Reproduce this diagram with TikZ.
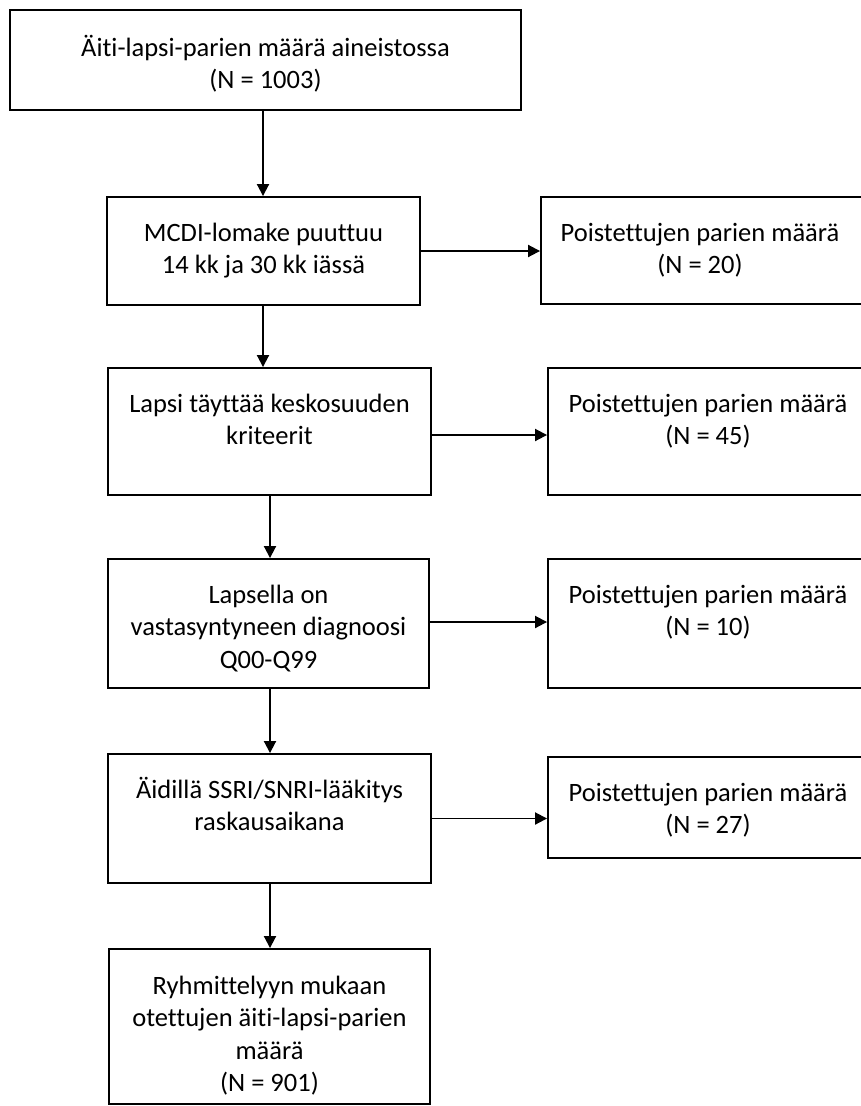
\documentclass[tikz,border=0pt]{standalone}
\usepackage{fontspec}
\setmainfont{Carlito}[Ligatures=NoCommon]
\usetikzlibrary{arrows.meta,calc}
\begin{document}
\begin{tikzpicture}[x=1pt,y=-1pt,
  box/.style={draw=black, line width=1.9pt, inner sep=0pt, rectangle},
  txt/.style={anchor=north, inner sep=0pt, align=center, font=\fontsize{26.5}{32.5}\selectfont},
  arr/.style={line width=1.9pt, -{Triangle[length=12pt,width=12pt]}}]
\path[use as bounding box] (0,0) rectangle (861,1106);
\clip (0,0) rectangle (861,1106);
% boxes
\node[box, minimum width=511pt, minimum height=100pt] (b1) at (265.5,60) {};
\node[box, minimum width=313pt, minimum height=108pt] (b2) at (263.5,251) {};
\node[box, minimum width=325pt, minimum height=107pt] (r1) at (703.5,250.5) {};
\node[box, minimum width=323pt, minimum height=127pt] (b3) at (269.5,431.5) {};
\node[box, minimum width=320pt, minimum height=127pt] (r2) at (708,431.5) {};
\node[box, minimum width=321pt, minimum height=129pt] (b4) at (268.5,623.5) {};
\node[box, minimum width=320pt, minimum height=129pt] (r3) at (708,623.5) {};
\node[box, minimum width=323pt, minimum height=129pt] (b5) at (269.5,818.5) {};
\node[box, minimum width=320pt, minimum height=101pt] (r4) at (708,807.5) {};
\node[box, minimum width=321pt, minimum height=155pt] (b6) at (269.5,1026.5) {};
% texts
\node[txt] (t1) at ([yshift=-24pt]b1.north) {\strut Äiti-lapsi-parien määrä aineistossa\\(N = 1003)};
\node[txt] (t2) at ([yshift=-22.3pt]b2.north) {\strut MCDI-lomake puuttuu\\14 kk ja 30 kk iässä};
\node[txt] (tr1) at ([xshift=-3.5pt,yshift=-22.3pt]r1.north) {\strut Poistettujen parien määrä\\(N = 20)};
\node[txt] (t3) at ([yshift=-22.3pt]b3.north) {\strut Lapsi täyttää keskosuuden\\kriteerit};
\node[txt] (tr2) at ([yshift=-22.3pt]r2.north) {\strut Poistettujen parien määrä\\(N = 45)};
\node[txt] (t4) at ([yshift=-22.3pt]b4.north) {\strut Lapsella on\\vastasyntyneen diagnoosi\\Q00-Q99};
\node[txt] (tr3) at ([yshift=-22.3pt]r3.north) {\strut Poistettujen parien määrä\\(N = 10)};
\node[txt] (t5) at ([yshift=-22.3pt]b5.north) {\strut Äidillä SSRI/SNRI-lääkitys\\raskausaikana};
\node[txt] (tr4) at ([yshift=-22.3pt]r4.north) {\strut Poistettujen parien määrä\\(N = 27)};
\node[txt] (t6) at ([yshift=-23pt]b6.north) {\strut Ryhmittelyyn mukaan\\otettujen äiti-lapsi-parien\\määrä\\(N = 901)};
% arrow x positions
\coordinate (xa) at (263,0);
\coordinate (xb) at (270,0);
% vertical arrows
\draw[arr] (b1.south -| xa) -- (b2.north -| xa);
\draw[arr] (b2.south -| xa) -- (b3.north -| xa);
\draw[arr] (b3.south -| xb) -- (b4.north -| xb);
\draw[arr] (b4.south -| xb) -- (b5.north -| xb);
\draw[arr] (b5.south -| xb) -- (b6.north -| xb);
% horizontal arrows
\draw[arr] (b2.east) -- (b2.east -| r1.west);
\draw[arr] ([yshift=-3.5pt]b3.east) -- ([yshift=-3.5pt]b3.east -| r2.west);
\draw[arr] ([yshift=1.5pt]b4.east) -- ([yshift=1.5pt]b4.east -| r3.west);
\draw[arr] (b5.east) -- (b5.east -| r4.west);
\end{tikzpicture}
\end{document}
